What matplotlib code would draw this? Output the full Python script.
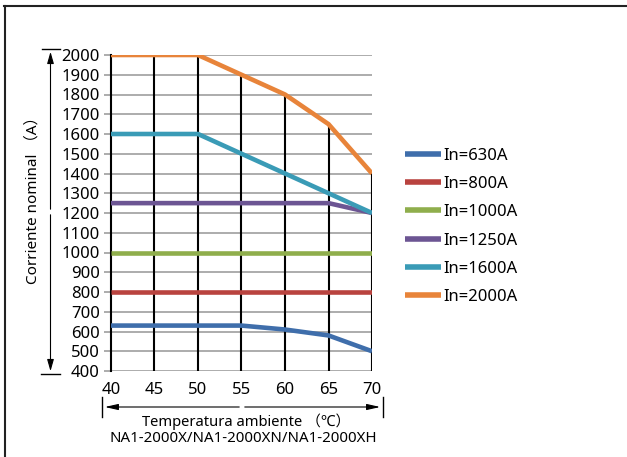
import matplotlib
matplotlib.use("Agg")
import matplotlib.pyplot as plt
from matplotlib.lines import Line2D
from matplotlib.patches import FancyArrowPatch

plt.rcParams['font.family'] = ['Noto Sans', 'Noto Sans CJK SC', 'DejaVu Sans']

temps = [40, 45, 50, 55, 60, 65, 70]
series_labels = ["In=630A", "In=800A", "In=1000A", "In=1250A", "In=1600A", "In=2000A"]
in_630 = [630, 630, 630, 630, 610, 580, 500]
in_800 = [800, 800, 800, 800, 800, 800, 800]
in_1000 = [1000, 1000, 1000, 1000, 1000, 1000, 1000]
in_1250 = [1250, 1250, 1250, 1250, 1250, 1250, 1200]
in_1600 = [1600, 1600, 1600, 1500, 1400, 1300, 1200]
in_2000 = [2000, 2000, 2000, 1900, 1800, 1650, 1400]
colors = ["#3f6eab", "#b9433f", "#8fae4c", "#6c5593", "#3a9bb6", "#e8843a"]
yticks = list(range(400, 2001, 100))
xticks = temps

W, H = 627, 457
fig = plt.figure(figsize=(W / 100, H / 100), dpi=100)
ax = fig.add_axes([111 / W, 1 - 371 / H, 261 / W, 316 / H])

series = [in_630, in_800, in_1000, in_1250, in_1600, in_2000]

ax.set_xlim(40, 70)
ax.set_ylim(400, 2000)
for y in yticks:
    ax.axhline(y, color="#a6a6a6", lw=1.3, zorder=1)

# vertical drop lines from top series
for t, v in zip(temps[1:], in_2000[1:]):
    ax.plot([t, t], [400, v], color="black", lw=1.5, zorder=2)

for vals, c, lab in zip(series, colors, series_labels):
    ax.plot(temps, vals, color=c, lw=3.3, label=lab, zorder=3, solid_capstyle="butt")

for s in ["top", "right", "bottom"]:
    ax.spines[s].set_visible(False)
ax.spines["left"].set_color("black")
ax.spines["left"].set_linewidth(1.5)
ax.set_yticks(yticks)
ax.set_xticks(xticks)
ax.tick_params(axis="y", length=5, width=1.3, color="#a6a6a6", labelsize=12, pad=3)
ax.tick_params(axis="x", length=0, labelsize=12, pad=8)

leg = fig.legend(loc="upper left", bbox_to_anchor=(398 / W, 1 - 141 / H), frameon=False,
                 fontsize=12, handlelength=2.2, handletextpad=0.1, labelspacing=0.74,
                 borderaxespad=0)
for h in leg.get_lines():
    h.set_linewidth(4)


def px(x, y):
    return x / W, 1 - y / H


# y dimension arrow
fig.add_artist(Line2D([42 / W, 60 / W], [1 - 49 / H] * 2, color="black", lw=1))
fig.add_artist(Line2D([41 / W, 60 / W], [1 - 374 / H] * 2, color="black", lw=1))
fig.patches.append(FancyArrowPatch(px(50.5, 212), px(50.5, 49), transform=fig.transFigure,
                   arrowstyle="-|>,head_length=7,head_width=2", color="black", lw=0.8, mutation_scale=1))
fig.patches.append(FancyArrowPatch(px(50.5, 212), px(50.5, 374), transform=fig.transFigure,
                   arrowstyle="-|>,head_length=7,head_width=2", color="black", lw=0.8, mutation_scale=1))

# x dimension arrow
fig.add_artist(Line2D([102 / W] * 2, [1 - 397 / H, 1 - 417 / H], color="black", lw=1))
fig.add_artist(Line2D([383 / W] * 2, [1 - 397 / H, 1 - 417 / H], color="black", lw=1))
fig.patches.append(FancyArrowPatch(px(242, 407), px(102, 407), transform=fig.transFigure,
                   arrowstyle="-|>,head_length=8,head_width=1.8", color="black", lw=0.8, mutation_scale=1))
fig.patches.append(FancyArrowPatch(px(242, 407), px(383, 407), transform=fig.transFigure,
                   arrowstyle="-|>,head_length=8,head_width=1.8", color="black", lw=0.8, mutation_scale=1))

fig.text(33 / W, 1 - 197 / H, "Corriente nominal （A）", rotation=90, ha="center", va="center", fontsize=11)
fig.text(246 / W, 1 - 422 / H, "Temperatura ambiente （℃）", ha="center", va="center", fontsize=10.6)
fig.text(243 / W, 1 - 439 / H, "NA1-2000X/NA1-2000XN/NA1-2000XH", ha="center", va="center", fontsize=10.8)

# frame lines (top and left)
fig.add_artist(Line2D([4 / W, 1], [1 - 5.5 / H] * 2, color="#222222", lw=1.5))
fig.add_artist(Line2D([4.5 / W] * 2, [0, 1 - 5.5 / H], color="#222222", lw=1.5))

fig.savefig("out.png", dpi=100)
